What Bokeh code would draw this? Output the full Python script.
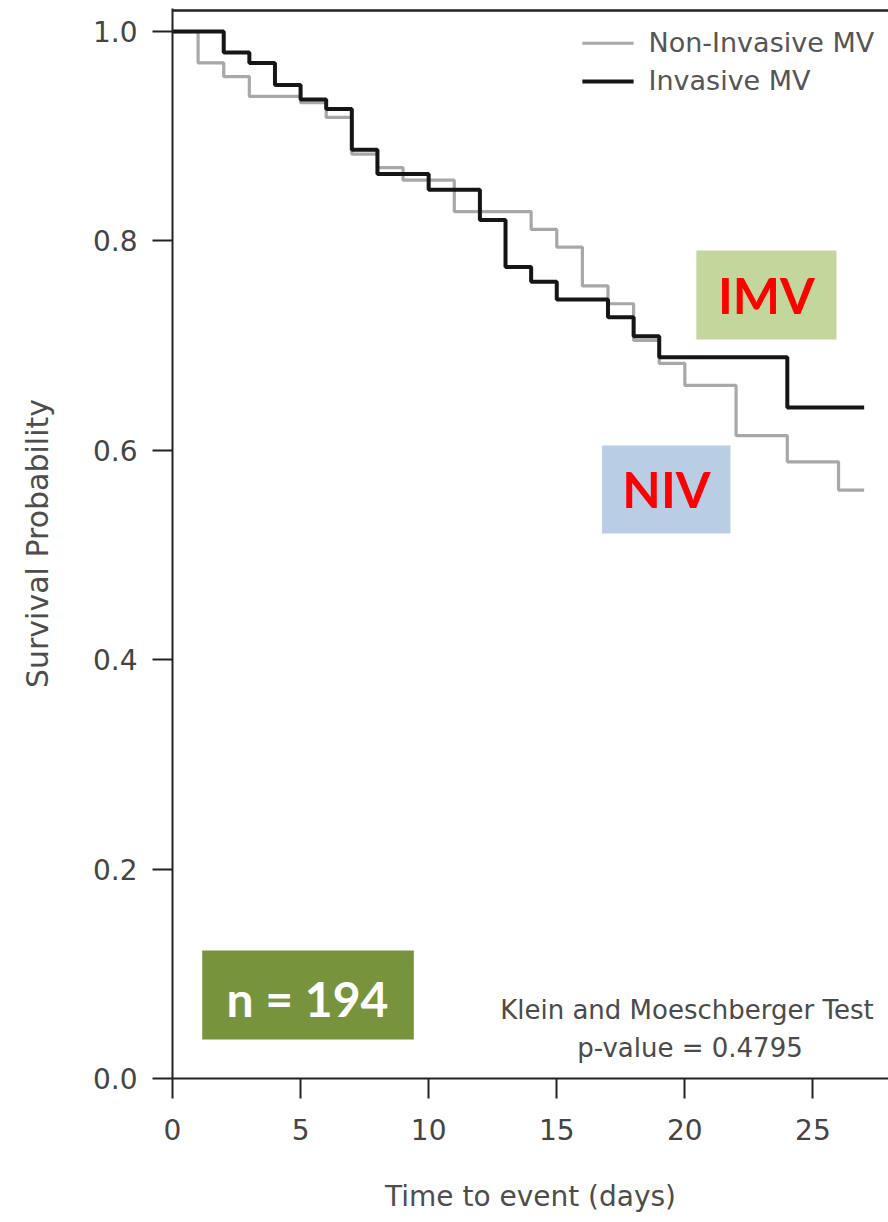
from bokeh.plotting import figure
from bokeh.models import Range1d, Span, FixedTicker, PrintfTickFormatter
from bokeh.core.properties import value
from bokeh.embed import file_html
from bokeh.resources import INLINE

# Kaplan-Meier survival estimates: days at which each step starts and the survival after it
niv_days = [0, 1, 2, 3, 5, 6, 7, 8, 9, 11, 14, 15, 16, 17, 18, 19, 20, 22, 24, 26, 27]
niv_surv = [1.0, 0.970, 0.957, 0.938, 0.932, 0.918, 0.883, 0.870, 0.858, 0.828, 0.811,
            0.794, 0.757, 0.740, 0.705, 0.683, 0.662, 0.614, 0.589, 0.562, 0.562]
imv_days = [0, 2, 3, 4, 5, 6, 7, 8, 10, 12, 13, 14, 15, 17, 18, 19, 24, 27]
imv_surv = [1.0, 0.980, 0.970, 0.949, 0.935, 0.926, 0.887, 0.864, 0.849, 0.820, 0.775,
            0.761, 0.744, 0.727, 0.709, 0.689, 0.641, 0.641]

x_ticks = [0, 5, 10, 15, 20, 25]
y_ticks = [0.0, 0.2, 0.4, 0.6, 0.8, 1.0]
series_labels = ["Non-Invasive MV", "Invasive MV"]
series_colors = ["#a8a8a8", "#151515"]
series_widths = [3.2, 4.0]
group_tags = ["NIV", "IMV"]
sample_size = 194
test_name = "Klein and Moeschberger Test"
p_value = 0.4795

AXIS_FONT = "DejaVu Sans"
TAG_FONT = "Lato"

p = figure(width=888, height=1222, x_range=Range1d(0, 27.95), y_range=Range1d(0, 1.022),
           output_backend="svg", toolbar_location=None, title=None,
           min_border_left=172, min_border_right=0, min_border_top=8, min_border_bottom=144)
p.outline_line_color = None
p.grid.grid_line_color = None
p.background_fill_color = "white"
p.border_fill_color = "white"

# top edge of the plotting box
p.add_layout(Span(location=1.02, dimension="width", line_color="#222222", line_width=2.5))

# coloured tag boxes
p.quad(left=[20.45], right=[25.92], bottom=[0.7058], top=[0.7908],
       fill_color="#c3d69b", line_color=None)
p.quad(left=[16.77], right=[21.78], bottom=[0.5205], top=[0.6046],
       fill_color="#b9cde5", line_color=None)
p.quad(left=[1.16], right=[9.42], bottom=[0.0373], top=[0.1223],
       fill_color="#77933c", line_color=None)

# survival curves
p.step(niv_days, niv_surv, mode="after", line_color=series_colors[0], line_width=series_widths[0])
p.step(imv_days, imv_surv, mode="after", line_color=series_colors[1], line_width=series_widths[1])

# key in the top right corner
key_rows = [0.9888, 0.9522]
p.segment(x0=[16.0, 16.0], x1=[18.0, 18.0], y0=key_rows, y1=key_rows,
          line_color=series_colors, line_width=series_widths)
p.text(x=[18.58, 18.58], y=[0.9895, 0.9535], text=series_labels, text_font=value(AXIS_FONT),
       text_font_size="27px", text_color="#555555", text_align="left", text_baseline="middle")

# tag texts
p.text(x=[23.18], y=[0.748], text=[group_tags[1]], text_font=value(TAG_FONT),
       text_font_style="bold", text_font_size="50px", text_color="#ff0000",
       text_align="center", text_baseline="middle")
p.text(x=[19.28], y=[0.5626], text=[group_tags[0]], text_font=value(TAG_FONT),
       text_font_style="bold", text_font_size="50px", text_color="#ff0000",
       text_align="center", text_baseline="middle")
p.text(x=[5.27], y=[0.0765], text=[f"n = {sample_size}"], text_font=value(TAG_FONT),
       text_font_style="bold", text_font_size="48px", text_color="white",
       text_align="center", text_baseline="middle")

# test result
p.text(x=[20.08], y=[0.065], text=[test_name], text_font=value(AXIS_FONT),
       text_font_size="26px", text_color="#4a4a4a",
       text_align="center", text_baseline="middle")
p.text(x=[20.2], y=[0.0296], text=[f"p-value = {p_value}"], text_font=value(AXIS_FONT),
       text_font_size="26px", text_color="#4a4a4a",
       text_align="center", text_baseline="middle")

p.xaxis.ticker = FixedTicker(ticks=x_ticks)
p.yaxis.ticker = FixedTicker(ticks=y_ticks)
p.yaxis.formatter = PrintfTickFormatter(format="%.1f")
for ax in (p.xaxis[0], p.yaxis[0]):
    ax.axis_line_width = 2
    ax.axis_line_color = "#222222"
    ax.major_tick_out = 20
    ax.major_tick_in = 0
    ax.major_tick_line_width = 2
    ax.major_tick_line_color = "#222222"
    ax.minor_tick_line_color = None
    ax.major_label_text_font = AXIS_FONT
    ax.major_label_text_font_size = "28px"
    ax.major_label_text_color = "#444444"
    ax.axis_label_text_font = AXIS_FONT
    ax.axis_label_text_font_style = "normal"
    ax.axis_label_text_color = "#4d4d4d"
p.xaxis.axis_label = "Time to event (days)"
p.yaxis.axis_label = "Survival Probability"
p.xaxis.axis_label_text_font_size = "28px"
p.yaxis.axis_label_text_font_size = "30px"
p.yaxis.major_label_standoff = 15
p.xaxis.major_label_standoff = 20
p.yaxis.axis_label_standoff = 35
p.xaxis.axis_label_standoff = 37

open("out.html", "w").write(file_html(p, INLINE))
